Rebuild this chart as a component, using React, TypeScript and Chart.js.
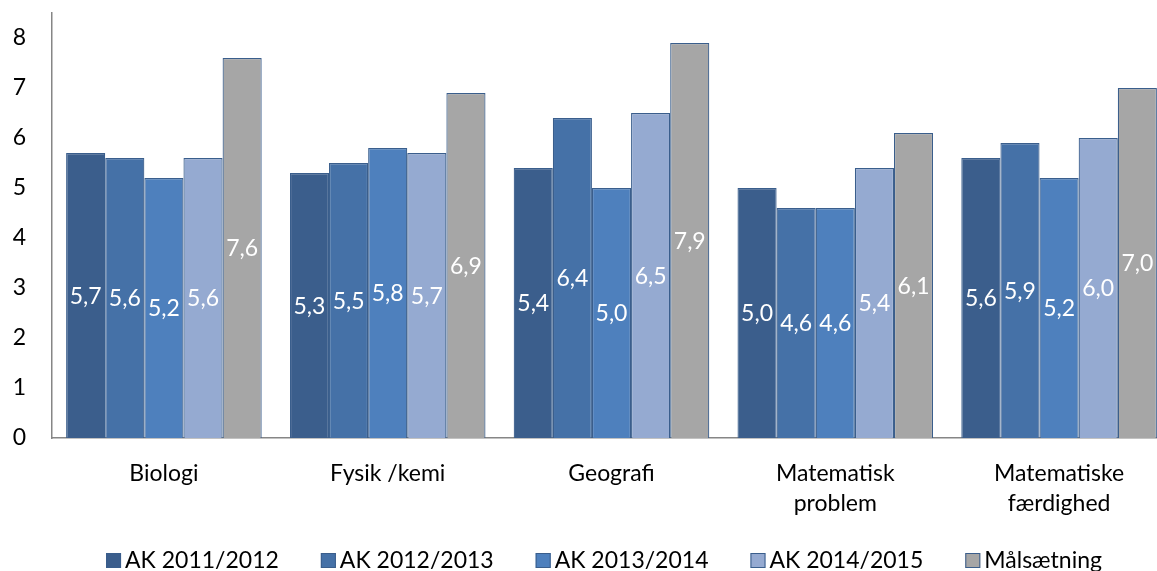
import React, { useEffect, useRef } from 'react';
import { Chart, registerables } from 'chart.js';

Chart.register(...registerables);

const categories: (string | string[])[] = [
  'Biologi',
  'Fysik /kemi',
  'Geografi',
  ['Matematisk', 'problem'],
  ['Matematiske', 'færdighed'],
];
const seriesNames = ['AK 2011/2012', 'AK 2012/2013', 'AK 2013/2014', 'AK 2014/2015', 'Målsætning'];
const ak20112012 = [5.7, 5.3, 5.4, 5.0, 5.6];
const ak20122013 = [5.6, 5.5, 6.4, 4.6, 5.9];
const ak20132014 = [5.2, 5.8, 5.0, 4.6, 5.2];
const ak20142015 = [5.6, 5.7, 6.5, 5.4, 6.0];
const maalsaetning = [7.6, 6.9, 7.9, 6.1, 7.0];
const yTickValues = [0, 1, 2, 3, 4, 5, 6, 7, 8];

const seriesValues = [ak20112012, ak20122013, ak20132014, ak20142015, maalsaetning];
const fillColors = ['#3B5E8C', '#4571A7', '#4E80BD', '#95AAD1', '#A6A6A6'];
const borderColor = '#3A5E8C';
const FONT = 'Lato, "Open Sans", sans-serif';
const FS = 23;

const fmt = (v: number) => v.toFixed(1).replace('.', ',');

const dataLabelPlugin = {
  id: 'dataLabels',
  afterDatasetsDraw(chart: any) {
    const ctx = chart.ctx;
    ctx.save();
    ctx.font = `${FS}px ${FONT}`;
    ctx.fillStyle = '#FFFFFF';
    ctx.textAlign = 'center';
    ctx.textBaseline = 'alphabetic';
    chart.data.datasets.forEach((ds: any, i: number) => {
      const meta = chart.getDatasetMeta(i);
      meta.data.forEach((el: any, j: number) => {
        const mid = (el.y + el.base) / 2;
        ctx.fillText(fmt(ds.data[j]), el.x, mid + FS * 0.36);
      });
    });
    ctx.restore();
  },
};

const customLegendPlugin = {
  id: 'customLegend',
  afterDraw(chart: any) {
    const ctx = chart.ctx;
    ctx.save();
    ctx.font = `${FS}px ${FONT}`;
    const box = 15;
    const gapBoxText = 4;
    const itemGap = 42;
    const widths = seriesNames.map((n) => box + gapBoxText + ctx.measureText(n).width);
    const total = widths.reduce((a, b) => a + b, 0) + itemGap * (seriesNames.length - 1);
    let x = chart.width / 2 - total / 2;
    const baseline = chart.height - 3;
    seriesNames.forEach((n, i) => {
      ctx.fillStyle = fillColors[i];
      ctx.fillRect(x, baseline - box, box, box);
      ctx.strokeStyle = borderColor;
      ctx.lineWidth = 1;
      ctx.strokeRect(x + 0.5, baseline - box + 0.5, box - 1, box - 1);
      ctx.fillStyle = '#000000';
      ctx.textAlign = 'left';
      ctx.textBaseline = 'alphabetic';
      ctx.fillText(n, x + box + gapBoxText, baseline);
      x += widths[i] + itemGap;
    });
    ctx.restore();
  },
};

export default function App() {
  const ref = useRef<HTMLCanvasElement | null>(null);
  useEffect(() => {
    if (!ref.current) return;
    const chart = new Chart(ref.current, {
      type: 'bar',
      data: {
        labels: categories as any,
        datasets: seriesNames.map((name, i) => ({
          label: name,
          data: seriesValues[i],
          backgroundColor: fillColors[i],
          borderColor: borderColor,
          borderWidth: 1.2,
          categoryPercentage: 0.874,
          barPercentage: 1.0,
        })),
      },
      options: {
        responsive: false,
        animation: false,
        devicePixelRatio: 1,
        layout: { padding: { top: 13, right: 37, bottom: 0, left: 0 } },
        plugins: {
          legend: { display: false },
          tooltip: { enabled: false },
        },
        scales: {
          x: {
            grid: { display: false, drawTicks: false },
            border: { display: true, color: '#868686', width: 1.5 },
            ticks: {
              color: '#000000',
              font: { family: FONT, size: FS, lineHeight: 1.32 },
              padding: 20,
              maxRotation: 0,
              autoSkip: false,
            },
            afterFit: (s: any) => {
              s.height = 133;
              s.paddingLeft = 0;
              s.paddingRight = 0;
            },
          },
          y: {
            min: 0,
            max: 8.5,
            grid: { display: false, drawTicks: false },
            border: { display: true, color: '#868686', width: 1.5 },
            afterBuildTicks: (s: any) => {
              s.ticks = yTickValues.map((v) => ({ value: v }));
            },
            ticks: {
              color: '#000000',
              font: { family: FONT, size: FS },
              padding: 26,
              callback: (v: any) => String(v),
            },
            afterFit: (s: any) => {
              s.width = 52;
              s.paddingTop = 0;
              s.paddingBottom = 0;
            },
          },
        },
      },
      plugins: [dataLabelPlugin, customLegendPlugin],
    });
    return () => chart.destroy();
  }, []);

  return (
    <div
      style={{
        position: 'fixed',
        left: 0,
        top: 0,
        width: 1157,
        height: 571,
        overflow: 'hidden',
        background: '#FFFFFF',
      }}
    >
      <canvas ref={ref} width={1208} height={571} style={{ display: 'block' }} />
    </div>
  );
}
